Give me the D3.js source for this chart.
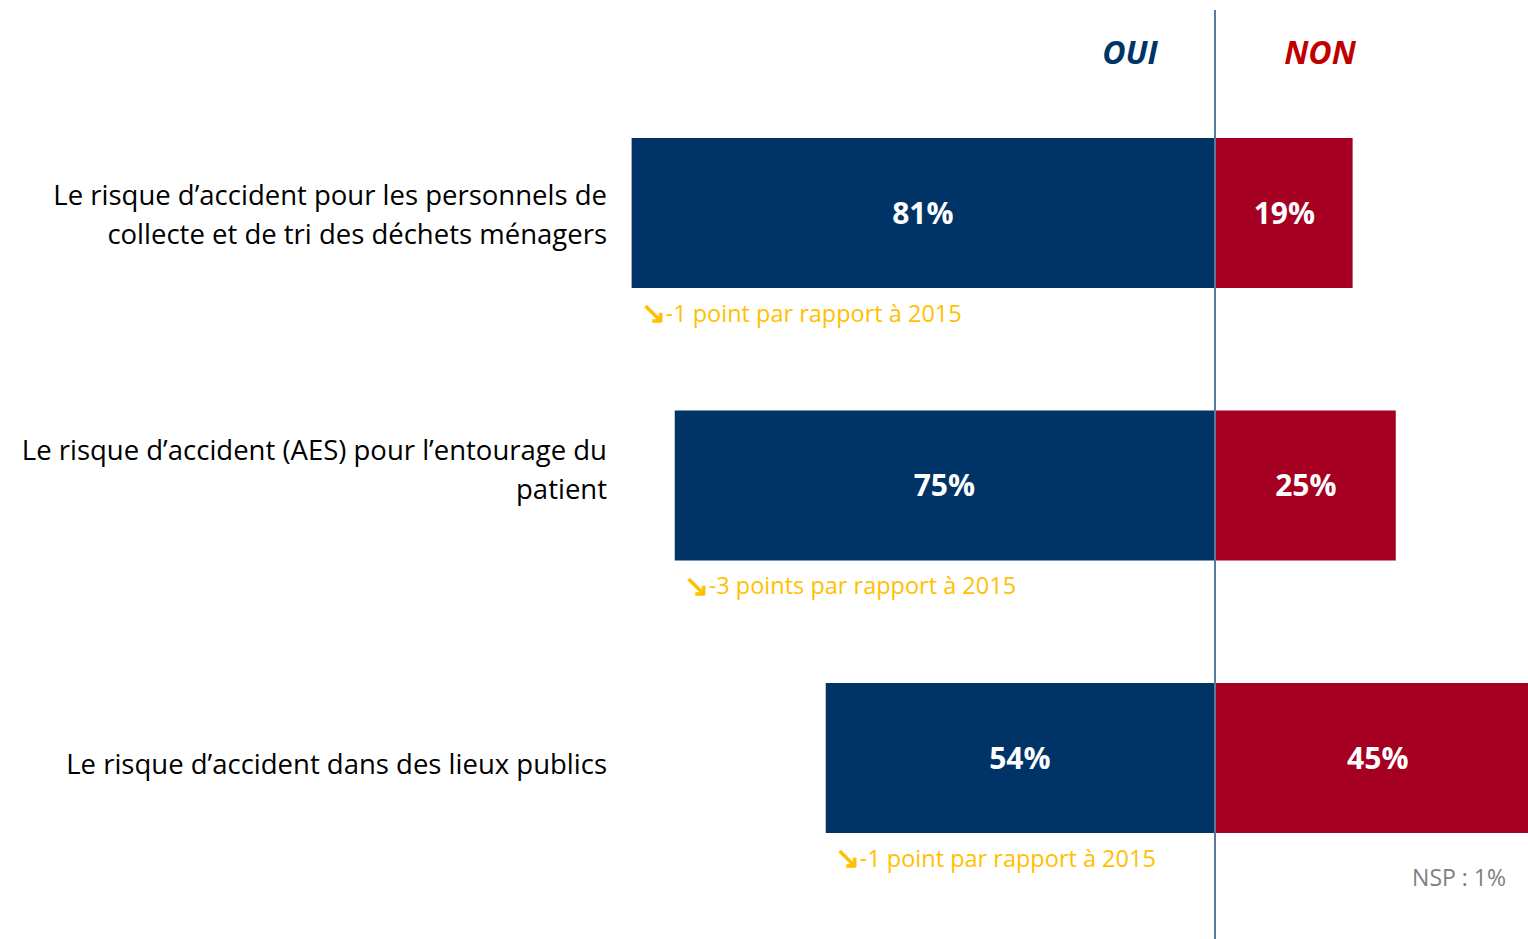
<!DOCTYPE html>
<html>
<head>
<meta charset="utf-8">
<title>Risques d'accident</title>
<script src="https://d3js.org/d3.v7.min.js"></script>
<style>
  body { margin: 0; background: #fff; }
  svg { display: block; font-family: "Open Sans", "Noto Sans", sans-serif; }
</style>
</head>
<body>
<svg width="1528" height="939"></svg>
<script>
// data
var categories = [
  ["Le risque d\u2019accident pour les personnels de", "collecte et de tri des d\u00e9chets m\u00e9nagers"],
  ["Le risque d\u2019accident (AES) pour l\u2019entourage du", "patient"],
  ["Le risque d\u2019accident dans des lieux publics"]
];
var oui = [81, 75, 54];
var non = [19, 25, 45];
var evolutions = ["-1 point par rapport \u00e0 2015", "-3 points par rapport \u00e0 2015", "-1 point par rapport \u00e0 2015"];
var nsp = "NSP : 1%";

var svg = d3.select("svg"),
    width = +svg.attr("width"),
    height = +svg.attr("height");

var navy = "#003366", red = "#A50021", gold = "#FFC000";

var center = 1215;
var pxPerPct = 7.19;

var xOui = d3.scaleLinear().domain([0, 100]).range([center - 1, center - 1 - 100 * pxPerPct]);
var xNon = d3.scaleLinear().domain([0, 100]).range([center + 1, center + 1 + 100 * pxPerPct]);

// bands of ~150px with ~272px step
var y = d3.scaleBand()
    .domain(d3.range(categories.length))
    .range([138, 138 + 2 * 272.5 + 150])
    .paddingInner(122.5 / 272.5)
    .paddingOuter(0);

// the label block sits a bit off the bar centre in the original
var labelShift = [2, -16, 6];

var rows = svg.append("g").selectAll("g")
  .data(d3.range(categories.length))
  .enter().append("g");

rows.append("rect")
    .attr("x", function(i) { return xOui(oui[i]); })
    .attr("y", function(i) { return y(i); })
    .attr("width", function(i) { return xOui(0) - xOui(oui[i]); })
    .attr("height", y.bandwidth())
    .attr("fill", navy);

rows.append("rect")
    .attr("x", function(i) { return xNon(0); })
    .attr("y", function(i) { return y(i); })
    .attr("width", function(i) { return xNon(non[i]) - xNon(0); })
    .attr("height", y.bandwidth())
    .attr("fill", red);

rows.append("text")
    .attr("x", function(i) { return (xOui(oui[i]) + xOui(0)) / 2; })
    .attr("y", function(i) { return y(i) + y.bandwidth() / 2; })
    .attr("dy", "0.36em")
    .attr("text-anchor", "middle")
    .attr("fill", "#fff")
    .attr("font-weight", "bold")
    .attr("font-size", 30)
    .text(function(i) { return oui[i] + "%"; });

rows.append("text")
    .attr("x", function(i) { return (xNon(0) + xNon(non[i])) / 2; })
    .attr("y", function(i) { return y(i) + y.bandwidth() / 2; })
    .attr("dy", "0.36em")
    .attr("text-anchor", "middle")
    .attr("fill", "#fff")
    .attr("font-weight", "bold")
    .attr("font-size", 30)
    .text(function(i) { return non[i] + "%"; });

// category labels
rows.append("text")
    .attr("text-anchor", "end")
    .attr("font-size", 27.5)
    .attr("fill", "#000")
    .each(function(i) {
      var lines = categories[i];
      var cy = y(i) + y.bandwidth() / 2 + labelShift[i];
      var lh = lines.length > 1 ? 39 : 0;
      d3.select(this).selectAll("tspan")
        .data(lines)
        .enter().append("tspan")
          .attr("x", 607)
          .attr("y", function(d, k) { return cy - lh / 2 + k * lh; })
          .attr("dy", "0.36em")
          .text(function(d) { return d; });
    });

// evolution notes
var notes = rows.append("text")
    .attr("x", function(i) { return xOui(oui[i]) + 9; })
    .attr("y", function(i) { return y(i) + y.bandwidth() + 26; })
    .attr("dy", "0.36em")
    .attr("fill", gold)
    .attr("font-size", 23.5);
notes.append("tspan").attr("font-weight", "bold").attr("font-size", 30).attr("dy", "0.3em").text("\u2198");
notes.append("tspan").attr("dy", "-0.05em").text(function(i) { return evolutions[i]; });

// center line
svg.append("line")
    .attr("x1", center).attr("x2", center)
    .attr("y1", 10).attr("y2", height)
    .attr("stroke", navy)
    .attr("stroke-width", 1.3);

// headers
svg.append("text")
    .attr("x", 1130).attr("y", 52).attr("dy", "0.36em")
    .attr("text-anchor", "middle")
    .attr("font-style", "italic").attr("font-weight", "bold")
    .attr("font-size", 32).attr("fill", navy)
    .text("OUI");
svg.append("text")
    .attr("x", 1320).attr("y", 52).attr("dy", "0.36em")
    .attr("text-anchor", "middle")
    .attr("font-style", "italic").attr("font-weight", "bold")
    .attr("font-size", 32).attr("fill", "#C00000")
    .text("NON");

// NSP
svg.append("text")
    .attr("x", 1506).attr("y", 878).attr("dy", "0.36em")
    .attr("text-anchor", "end")
    .attr("font-size", 23).attr("fill", "#7F7F7F")
    .text(nsp);
</script>
</body>
</html>
